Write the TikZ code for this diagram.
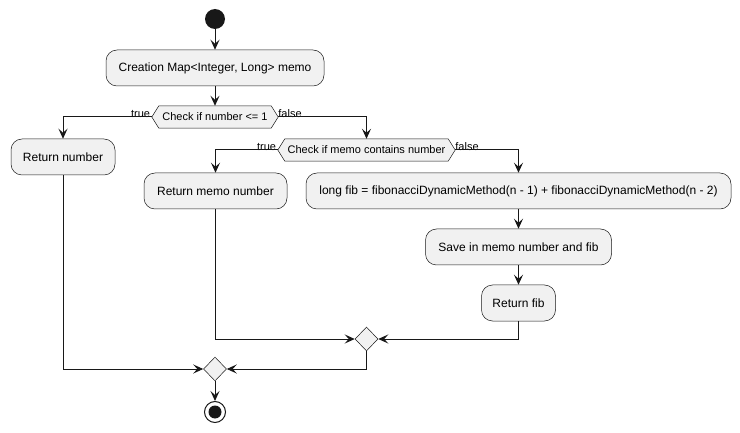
\documentclass[tikz,border=0pt]{standalone}
\usepackage{fontspec}
\setmainfont{Liberation Sans}
\usetikzlibrary{arrows.meta,shapes.geometric,backgrounds}
\definecolor{bg}{HTML}{F1F1F1}
\definecolor{ln}{HTML}{181818}
\begin{document}
\begin{tikzpicture}[x=1pt,y=-1pt,
  act/.style={draw=ln, fill=bg, line width=0.5pt, rounded corners=11pt, minimum height=36pt, inner xsep=0pt, font=\fontsize{12}{14}\selectfont},
  cond/.style={inner sep=0pt, minimum height=22pt, font=\fontsize{11}{13}\selectfont},
  hexst/.style={draw=ln, fill=bg, line width=0.5pt},
  merge/.style={diamond, draw=ln, fill=bg, line width=0.5pt, minimum width=23pt, minimum height=24pt, inner sep=0pt},
  lbl/.style={font=\fontsize{11}{13}\selectfont, inner sep=1pt},
  arr/.style={draw=ln, line width=1pt, -{Stealth[length=10pt,width=9pt,inset=4pt]}}
]
\useasboundingbox (0,0) rectangle (740,433);
% start
\node[circle, fill=ln, minimum size=20pt, inner sep=0pt] (start) at (215,19) {};
\node[act, minimum width=218pt] (b1) at (215,68) {Creation Map<Integer, Long> memo};
\node[cond, minimum width=112pt] (d1) at (215,117) {Check if number <= 1};
\node[act, minimum width=104pt] (rn) at (63,157) {Return number};
\node[cond, minimum width=163pt] (d2) at (366.5,150) {Check if memo contains number};
\node[act, minimum width=143pt] (rmn) at (215.5,191) {Return memo number};
\node[act, minimum width=425pt] (fib) at (518.5,191) {long fib = fibonacciDynamicMethod(n - 1) + fibonacciDynamicMethod(n - 2)};
\node[act, minimum width=186pt] (save) at (518.5,247) {Save in memo number and fib};
\node[act, minimum width=74pt] (rf) at (518.5,303) {Return fib};
\node[merge] (m1) at (366.5,339) {};
\node[merge] (m2) at (215,369) {};
\node[circle, draw=ln, fill=white, line width=1pt, minimum size=21pt, inner sep=0pt] (end) at (215,412) {};
\node[circle, fill=ln, minimum size=13pt, inner sep=0pt] (endin) at (end.center) {};
% hexagons
\coordinate (d1l) at ([xshift=-7pt]d1.west);
\coordinate (d1r) at ([xshift=7pt]d1.east);
\coordinate (d2l) at ([xshift=-7pt]d2.west);
\coordinate (d2r) at ([xshift=7pt]d2.east);
\begin{scope}[on background layer]
\draw[hexst] (d1l) -- (d1.north west) -- (d1.north east) -- (d1r) -- (d1.south east) -- (d1.south west) -- cycle;
\draw[hexst] (d2l) -- (d2.north west) -- (d2.north east) -- (d2r) -- (d2.south east) -- (d2.south west) -- cycle;
\end{scope}
% labels
\node[lbl, anchor=south east] (t1) at ([xshift=-0.5pt,yshift=-2pt]d1l) {true};
\node[lbl, anchor=south west] (f1) at ([xshift=-1pt,yshift=-2pt]d1r) {false};
\node[lbl, anchor=south east] (t2) at ([xshift=-0.5pt,yshift=-2pt]d2l) {true};
\node[lbl, anchor=south west] (f2) at ([xshift=-1pt,yshift=-2pt]d2r) {false};
% connectors
\draw[arr] (start) -- (b1);
\draw[arr] (b1) -- (d1.north);
\draw[arr] (d1l) -| (rn.north);
\draw[arr] (d1r) -| (d2.north);
\draw[arr] (d2l) -| (rmn.north);
\draw[arr] (d2r) -| (fib.north);
\draw[arr] (fib) -- (save);
\draw[arr] (save) -- (rf);
\draw[arr] (rmn.south) |- (m1.west);
\draw[arr] (rf.south) |- (m1.east);
\draw[arr] (rn.south) |- (m2.west);
\draw[arr] (m1.south) |- (m2.east);
\draw[arr] (m2) -- (end);
\end{tikzpicture}
\end{document}
